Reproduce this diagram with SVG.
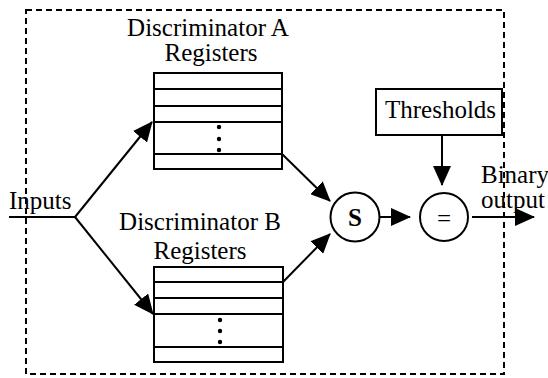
<svg xmlns="http://www.w3.org/2000/svg" width="548" height="378" viewBox="0 0 548 378">
<style>
.t{font-family:"Liberation Serif","Times New Roman",serif;font-size:25px;fill:#000}
.b{fill:#fff;stroke:#000;stroke-width:2}
.ln{stroke:#000;stroke-width:2;fill:none}
.c{stroke:#000;stroke-width:2;fill:none;marker-end:url(#ah)}
.dot{fill:#000}
</style>
<defs>
<marker id="ah" markerUnits="userSpaceOnUse" markerWidth="20" markerHeight="18" viewBox="0 0 20 18" refX="19" refY="9" orient="auto">
<path d="M0,0 L20,9 L0,18 z" fill="#000"/>
</marker>
</defs>
<rect x="26" y="10" width="478" height="364" fill="none" stroke="#000" stroke-width="2" stroke-dasharray="6,4"/>
<g id="regA">
<rect class="b" x="154" y="73" width="128" height="96"/>
<path class="ln" d="M154,89H282M154,106H282M154,122H282M154,154H282"/>
<circle class="dot" cx="219" cy="127" r="2.2"/><circle class="dot" cx="219" cy="139" r="2.2"/><circle class="dot" cx="219" cy="150" r="2.2"/>
<text class="t" x="208" y="36" text-anchor="middle">Discriminator A</text>
<text class="t" x="211" y="61" text-anchor="middle">Registers</text>
</g>
<g id="regB">
<rect class="b" x="154" y="267" width="129" height="95"/>
<path class="ln" d="M154,282H283M154,298H283M154,314H283M154,347H283"/>
<circle class="dot" cx="220" cy="320" r="2.2"/><circle class="dot" cx="220" cy="331" r="2.2"/><circle class="dot" cx="220" cy="342" r="2.2"/>
<text class="t" x="200" y="230" text-anchor="middle">Discriminator B</text>
<text class="t" x="200" y="259" text-anchor="middle">Registers</text>
</g>
<g id="inputs">
<text class="t" x="9" y="209">Inputs</text>
</g>
<g id="sum">
<circle class="b" cx="355" cy="217" r="24.5"/>
<text class="t" x="355" y="226" text-anchor="middle" font-weight="bold" font-size="26">S</text>
</g>
<g id="compare">
<circle class="b" cx="444" cy="217" r="24"/>
<text class="t" x="444" y="227" text-anchor="middle" font-size="30">=</text>
</g>
<g id="thresholds">
<rect class="b" x="376" y="89" width="126" height="46"/>
<text class="t" x="385" y="118">Thresholds</text>
</g>
<g id="output">
<text class="t" x="481" y="183" font-size="21">Binary</text>
<text class="t" x="481" y="208" font-size="21">output</text>
</g>
<g id="connectors">
<path class="ln" d="M9,217H75"/>
<path class="c" d="M75,217L152,122"/>
<path class="c" d="M75,217L153,314"/>
<path class="c" d="M282,154L330,201"/>
<path class="c" d="M283,282L330,234"/>
<path class="c" d="M380,217H410"/>
<path class="c" d="M442,135V185"/>
<path class="c" d="M472,217H534"/>
</g>
</svg>
